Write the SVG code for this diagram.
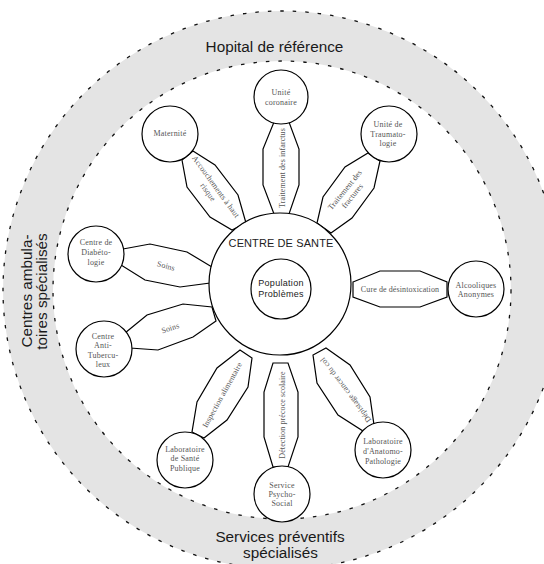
<svg xmlns="http://www.w3.org/2000/svg" width="544" height="564" viewBox="0 0 544 564">
<style>
.ring{fill:#e4e4e4;fill-rule:evenodd;stroke:none}
.dash{fill:none;stroke:#111;stroke-width:1.3;stroke-dasharray:3.5 9}
.big{font-family:"Liberation Sans",Arial,sans-serif;font-size:15.3px;fill:#1a1a1a;text-anchor:middle}
.node{fill:#fff;stroke:#000;stroke-width:1.2}
.conn{fill:#fff;stroke:#000;stroke-width:1.2;stroke-linejoin:miter}
.nl{font-family:"Liberation Serif","Times New Roman",serif;font-size:8px;fill:#555;text-anchor:middle;letter-spacing:0.2px}
.cl{font-family:"Liberation Serif","Times New Roman",serif;font-size:8px;fill:#555;text-anchor:middle;letter-spacing:0.1px}
.ctr{font-family:"Liberation Sans",Arial,sans-serif;fill:#222;text-anchor:middle}
</style>
<g id="ring">
<path class="ring" d="M3,290a279,279 0 1,0 558,0a279,279 0 1,0 -558,0ZM53,290a229,229 0 1,0 458,0a229,229 0 1,0 -458,0Z"/>
<circle class="dash" cx="282" cy="290" r="279"/>
<circle class="dash" cx="282" cy="290" r="229"/>
<text class="big" x="274.5" y="52">Hopital de référence</text>
<text class="big" x="280" y="542">Services préventifs</text>
<text class="big" x="280.5" y="558">spécialisés</text>
<text class="big" transform="translate(32,291) rotate(-90)">Centres ambula-</text>
<text class="big" transform="translate(46.5,291.5) rotate(-90)">toires spécialisés</text>
</g>
<g id="connectors">
<polygon class="conn" points="274,122 289,122 299,149 299,185 289,214 274,214 263,185 263,149"/>
<text class="cl" transform="translate(285,168) rotate(-90)">Traitement des infarctus</text>
<polygon class="conn" points="368,153 380,161 374,188 352,218 331,233 317,223 323,197 345,167"/>
<text class="cl" transform="translate(345,190) rotate(-51)"><tspan x="0" y="2.5">Traitement des</tspan><tspan x="0" y="12">fractures</tspan></text>
<polygon class="conn" points="193,151 215,165 238,195 246,223 232,230 210,217 187,187 182,160"/>
<text class="cl" transform="translate(215.7,186.7) rotate(54)"><tspan x="0" y="2.5">Accouchements à haut</tspan><tspan x="0" y="12">risque</tspan></text>
<polygon class="conn" points="123,249 150,244 187,252 212,267 210,283 180,287 145,280 121,265"/>
<text class="cl" transform="translate(166,266) rotate(15)" y="2.5">Soins</text>
<polygon class="conn" points="125,333 147,315 183,304 212,307 216,321 193,337 158,350 130,348"/>
<text class="cl" transform="translate(170.3,328.3) rotate(-18)" y="2.5">Soins</text>
<polygon class="conn" points="353,282 380,271 420,271 447,282 447,297 420,307 380,307 353,297"/>
<text class="cl" x="400" y="292.3">Cure de désintoxication</text>
<polygon class="conn" points="326,348 350,365 370,397 374,425 363,431 338,415 317,383 313,355"/>
<text class="cl" transform="translate(345.7,390) rotate(-127)" y="2.5">Dépistage cancer du col</text>
<polygon class="conn" points="240,350 252,358 248,387 227,420 204,438 192,432 197,402 217,368"/>
<text class="cl" transform="translate(222.3,395) rotate(-61)" y="2.5">Inspection alimentaire</text>
<polygon class="conn" points="273,363 288,363 298,392 298,437 288,467 273,467 264,437 264,392"/>
<text class="cl" transform="translate(284.5,415) rotate(-90)">Détection précoce scolaire</text>
</g>
<g id="centre">
<circle class="node" cx="280" cy="284" r="71"/>
<text class="ctr" x="281" y="247" font-size="11" letter-spacing="0.1">CENTRE DE SANTE</text>
</g>
<g id="population">
<circle class="node" cx="281" cy="289" r="30"/>
<text class="ctr" font-size="9" letter-spacing="0.3"><tspan x="281" y="286">Population</tspan><tspan x="281" y="297">Problèmes</tspan></text>
</g>
<g id="coronaire">
<circle class="node" cx="281" cy="97" r="27"/>
<text class="nl"><tspan x="281" y="95">Unité</tspan><tspan x="281" y="105">coronaire</tspan></text>
</g>
<g id="traumatologie">
<circle class="node" cx="389" cy="134" r="28"/>
<text class="nl"><tspan x="388" y="127">Unité de</tspan><tspan x="388" y="136.5">Traumato-</tspan><tspan x="388" y="146">logie</tspan></text>
</g>
<g id="maternite">
<circle class="node" cx="170" cy="134" r="28"/>
<text class="nl" x="170" y="136">Maternité</text>
</g>
<g id="diabetologie">
<circle class="node" cx="96" cy="254" r="28"/>
<text class="nl"><tspan x="96" y="245">Centre de</tspan><tspan x="96" y="255">Diabéto-</tspan><tspan x="96" y="265">logie</tspan></text>
</g>
<g id="tuberculeux">
<circle class="node" cx="104" cy="349" r="28"/>
<text class="nl"><tspan x="103" y="338.5">Centre</tspan><tspan x="103" y="348">Anti-</tspan><tspan x="103" y="357.5">Tubercu-</tspan><tspan x="103" y="367">leux</tspan></text>
</g>
<g id="alcooliques">
<circle class="node" cx="476" cy="289" r="28"/>
<text class="nl"><tspan x="476" y="288">Alcooliques</tspan><tspan x="476" y="297">Anonymes</tspan></text>
</g>
<g id="anatomo">
<circle class="node" cx="383" cy="450" r="28"/>
<text class="nl"><tspan x="383" y="444">Laboratoire</tspan><tspan x="383" y="454">d'Anatomo-</tspan><tspan x="383" y="464">Pathologie</tspan></text>
</g>
<g id="sante-publique">
<circle class="node" cx="185" cy="460" r="28"/>
<text class="nl"><tspan x="185" y="452">Laboratoire</tspan><tspan x="185" y="461">de Santé</tspan><tspan x="185" y="471">Publique</tspan></text>
</g>
<g id="psycho-social">
<circle class="node" cx="282" cy="494" r="28"/>
<text class="nl"><tspan x="282" y="488">Service</tspan><tspan x="282" y="497">Psycho-</tspan><tspan x="282" y="506">Social</tspan></text>
</g>
</svg>
